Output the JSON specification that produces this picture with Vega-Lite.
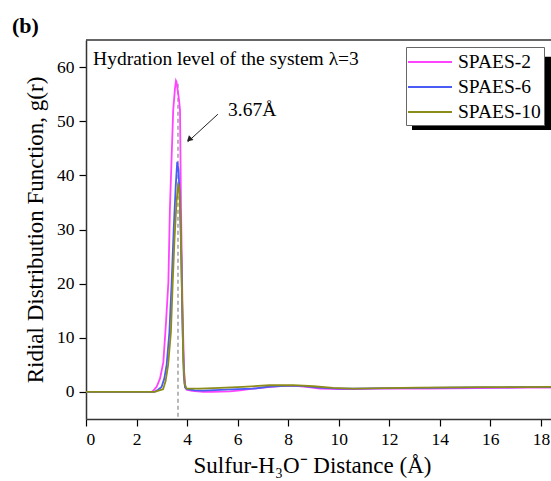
{
  "$schema": "https://vega.github.io/schema/vega-lite/v6.json",
  "width": 465,
  "height": 379,
  "autosize": {"type": "none"},
  "padding": {"left": 86, "top": 40, "right": 0, "bottom": 62},
  "background": "white",
  "title": {"text": "(b)", "anchor": "start", "frame": "group", "dx": -74, "offset": 1, "fontSize": 22, "fontWeight": "bold", "font": "Liberation Serif", "color": "#000"},
  "config": {
    "view": {"stroke": null},
    "font": "Liberation Serif",
    "axis": {"grid": false, "domainColor": "#333", "domainWidth": 1.5, "tickColor": "#000", "tickWidth": 1.2, "labelColor": "#000", "titleColor": "#000", "labelFont": "Liberation Serif", "titleFont": "Liberation Serif", "titleFontWeight": "normal"}
  },
  "datasets": {
    "curves": [
      {"s": "SPAES-2", "x": 0, "y": 0}, {"s": "SPAES-2", "x": 1, "y": 0}, {"s": "SPAES-2", "x": 2, "y": 0}, {"s": "SPAES-2", "x": 2.6, "y": 0},
      {"s": "SPAES-2", "x": 2.66, "y": 0.2}, {"s": "SPAES-2", "x": 2.8, "y": 1}, {"s": "SPAES-2", "x": 2.93, "y": 2.5}, {"s": "SPAES-2", "x": 3.06, "y": 5.5},
      {"s": "SPAES-2", "x": 3.16, "y": 12.4}, {"s": "SPAES-2", "x": 3.26, "y": 20.3}, {"s": "SPAES-2", "x": 3.32, "y": 33.8}, {"s": "SPAES-2", "x": 3.45, "y": 52},
      {"s": "SPAES-2", "x": 3.52, "y": 56}, {"s": "SPAES-2", "x": 3.56, "y": 57.5}, {"s": "SPAES-2", "x": 3.58, "y": 57.3}, {"s": "SPAES-2", "x": 3.62, "y": 56},
      {"s": "SPAES-2", "x": 3.68, "y": 54}, {"s": "SPAES-2", "x": 3.72, "y": 52}, {"s": "SPAES-2", "x": 3.76, "y": 33.8}, {"s": "SPAES-2", "x": 3.82, "y": 15},
      {"s": "SPAES-2", "x": 3.88, "y": 4}, {"s": "SPAES-2", "x": 3.93, "y": 1}, {"s": "SPAES-2", "x": 3.98, "y": 0.4}, {"s": "SPAES-2", "x": 4.2, "y": 0.2},
      {"s": "SPAES-2", "x": 4.64, "y": 0}, {"s": "SPAES-2", "x": 5.0, "y": 0}, {"s": "SPAES-2", "x": 5.7, "y": 0.1}, {"s": "SPAES-2", "x": 6.1, "y": 0.3},
      {"s": "SPAES-2", "x": 6.6, "y": 0.6}, {"s": "SPAES-2", "x": 7.2, "y": 0.9}, {"s": "SPAES-2", "x": 7.8, "y": 1.1}, {"s": "SPAES-2", "x": 8.3, "y": 1.1},
      {"s": "SPAES-2", "x": 8.8, "y": 0.9}, {"s": "SPAES-2", "x": 9.25, "y": 0.6}, {"s": "SPAES-2", "x": 10, "y": 0.5}, {"s": "SPAES-2", "x": 10.6, "y": 0.5},
      {"s": "SPAES-2", "x": 11.5, "y": 0.6}, {"s": "SPAES-2", "x": 12.5, "y": 0.6}, {"s": "SPAES-2", "x": 13.5, "y": 0.6}, {"s": "SPAES-2", "x": 14.5, "y": 0.65},
      {"s": "SPAES-2", "x": 15.5, "y": 0.7}, {"s": "SPAES-2", "x": 16.5, "y": 0.75}, {"s": "SPAES-2", "x": 17.5, "y": 0.8}, {"s": "SPAES-2", "x": 18.4, "y": 0.8},

      {"s": "SPAES-6", "x": 0, "y": 0}, {"s": "SPAES-6", "x": 2.7, "y": 0}, {"s": "SPAES-6", "x": 2.85, "y": 0.4}, {"s": "SPAES-6", "x": 2.99, "y": 0.9},
      {"s": "SPAES-6", "x": 3.1, "y": 2.5}, {"s": "SPAES-6", "x": 3.19, "y": 5}, {"s": "SPAES-6", "x": 3.3, "y": 11}, {"s": "SPAES-6", "x": 3.39, "y": 20.3},
      {"s": "SPAES-6", "x": 3.47, "y": 30}, {"s": "SPAES-6", "x": 3.55, "y": 38}, {"s": "SPAES-6", "x": 3.61, "y": 42.5}, {"s": "SPAES-6", "x": 3.66, "y": 41},
      {"s": "SPAES-6", "x": 3.72, "y": 35}, {"s": "SPAES-6", "x": 3.77, "y": 25}, {"s": "SPAES-6", "x": 3.82, "y": 12}, {"s": "SPAES-6", "x": 3.87, "y": 3},
      {"s": "SPAES-6", "x": 3.92, "y": 0.8}, {"s": "SPAES-6", "x": 4.0, "y": 0.5}, {"s": "SPAES-6", "x": 4.3, "y": 0.3}, {"s": "SPAES-6", "x": 4.64, "y": 0.25},
      {"s": "SPAES-6", "x": 5.3, "y": 0.37}, {"s": "SPAES-6", "x": 6.0, "y": 0.5}, {"s": "SPAES-6", "x": 6.6, "y": 0.6}, {"s": "SPAES-6", "x": 7.3, "y": 1.0},
      {"s": "SPAES-6", "x": 7.9, "y": 1.1}, {"s": "SPAES-6", "x": 8.5, "y": 1.1}, {"s": "SPAES-6", "x": 9.2, "y": 0.8}, {"s": "SPAES-6", "x": 10, "y": 0.6},
      {"s": "SPAES-6", "x": 10.6, "y": 0.6}, {"s": "SPAES-6", "x": 11.5, "y": 0.65}, {"s": "SPAES-6", "x": 12.5, "y": 0.7}, {"s": "SPAES-6", "x": 13.5, "y": 0.75},
      {"s": "SPAES-6", "x": 14.5, "y": 0.8}, {"s": "SPAES-6", "x": 15.5, "y": 0.85}, {"s": "SPAES-6", "x": 16.5, "y": 0.85}, {"s": "SPAES-6", "x": 17.5, "y": 0.9},
      {"s": "SPAES-6", "x": 18.4, "y": 0.9},

      {"s": "SPAES-10", "x": 0, "y": 0}, {"s": "SPAES-10", "x": 2.72, "y": 0}, {"s": "SPAES-10", "x": 2.9, "y": 0.3}, {"s": "SPAES-10", "x": 3.05, "y": 0.5},
      {"s": "SPAES-10", "x": 3.15, "y": 2}, {"s": "SPAES-10", "x": 3.25, "y": 5}, {"s": "SPAES-10", "x": 3.36, "y": 11}, {"s": "SPAES-10", "x": 3.43, "y": 20},
      {"s": "SPAES-10", "x": 3.5, "y": 28}, {"s": "SPAES-10", "x": 3.58, "y": 35}, {"s": "SPAES-10", "x": 3.65, "y": 38.5}, {"s": "SPAES-10", "x": 3.7, "y": 37},
      {"s": "SPAES-10", "x": 3.75, "y": 30}, {"s": "SPAES-10", "x": 3.8, "y": 18}, {"s": "SPAES-10", "x": 3.85, "y": 6}, {"s": "SPAES-10", "x": 3.9, "y": 1.5},
      {"s": "SPAES-10", "x": 3.98, "y": 0.6}, {"s": "SPAES-10", "x": 4.5, "y": 0.6}, {"s": "SPAES-10", "x": 5.3, "y": 0.74}, {"s": "SPAES-10", "x": 6.2, "y": 0.95},
      {"s": "SPAES-10", "x": 7.27, "y": 1.23}, {"s": "SPAES-10", "x": 8.2, "y": 1.25}, {"s": "SPAES-10", "x": 9.0, "y": 1.05}, {"s": "SPAES-10", "x": 9.78, "y": 0.74},
      {"s": "SPAES-10", "x": 10.57, "y": 0.6}, {"s": "SPAES-10", "x": 11.8, "y": 0.7}, {"s": "SPAES-10", "x": 13.2, "y": 0.8}, {"s": "SPAES-10", "x": 14.5, "y": 0.85},
      {"s": "SPAES-10", "x": 15.85, "y": 0.9}, {"s": "SPAES-10", "x": 17, "y": 0.9}, {"s": "SPAES-10", "x": 18.4, "y": 0.92}
    ]
  },
  "encoding": {
    "x": {"field": "x", "type": "quantitative", "scale": {"domain": [0, 18.4], "nice": false, "zero": false},
      "axis": {"values": [0, 2, 4, 6, 8, 10, 12, 14, 16, 18], "title": "Sulfur-H₃O⁻ Distance (Å)", "titleX": 226, "tickSize": 7, "labelFontSize": 17.5, "labelPadding": 4, "titleFontSize": 23, "titlePadding": 7}},
    "y": {"field": "y", "type": "quantitative", "scale": {"domain": [-5, 65], "nice": false, "zero": false},
      "axis": {"values": [0, 10, 20, 30, 40, 50, 60], "title": "Ridial Distribution Function, g(r)", "tickSize": 7, "labelFontSize": 17.5, "labelPadding": 5, "titleFontSize": 23, "titlePadding": 9}}
  },
  "layer": [
    {
      "data": {"values": [{"x": 0, "x2": 18.4, "y": 65}]},
      "mark": {"type": "rule", "color": "#333", "strokeWidth": 1.5},
      "encoding": {"x2": {"field": "x2"}}
    },
    {
      "data": {"values": [{"x": 12.9, "x2": 18.4, "y": 61.9, "y2": 48.4}]},
      "mark": {"type": "rect", "color": "#000"},
      "encoding": {"x2": {"field": "x2"}, "y2": {"field": "y2"}}
    },
    {
      "data": {"values": [{"x": 3.64, "y": -4.6, "y2": 57}]},
      "mark": {"type": "rule", "color": "#888", "strokeDash": [4, 3], "strokeWidth": 1.2},
      "encoding": {"y2": {"field": "y2"}}
    },
    {
      "data": {"name": "curves"},
      "mark": {"type": "line", "strokeWidth": 1.8, "clip": true},
      "encoding": {
        "color": {"field": "s", "type": "nominal",
          "scale": {"domain": ["SPAES-2", "SPAES-6", "SPAES-10"], "range": ["#ff44ff", "#4a5cf5", "#8c8c1a"]},
          "legend": {"title": null, "orient": "none", "legendX": 320, "legendY": 7, "symbolType": "M-2,0H2", "symbolSize": 484, "symbolStrokeWidth": 2, "symbolOffset": 9, "labelOffset": 16, "labelFontSize": 19.5, "labelFont": "Liberation Serif", "labelColor": "#000", "strokeColor": "#666", "fillColor": "#fff", "padding": 3, "rowPadding": 3}}
      }
    },
    {
      "data": {"values": [{"x": 5.22, "y": 51.3, "x2": 4.03, "y2": 46.2}]},
      "mark": {"type": "rule", "color": "#222", "strokeWidth": 1},
      "encoding": {"x2": {"field": "x2"}, "y2": {"field": "y2"}}
    },
    {
      "data": {"values": [{"x": 4.08, "y": 46.6}]},
      "mark": {"type": "point", "shape": "triangle-up", "filled": true, "color": "#222", "size": 45, "angle": 227, "opacity": 1}
    },
    {
      "data": {"values": [{"x": 0.28, "y": 60.3, "t": "Hydration level of the system λ=3"}, {"x": 5.62, "y": 51.0, "t": "3.67Å"}]},
      "mark": {"type": "text", "align": "left", "baseline": "alphabetic", "font": "Liberation Serif", "fontSize": 19.5, "color": "#000"},
      "encoding": {"text": {"field": "t"}}
    }
  ]
}
